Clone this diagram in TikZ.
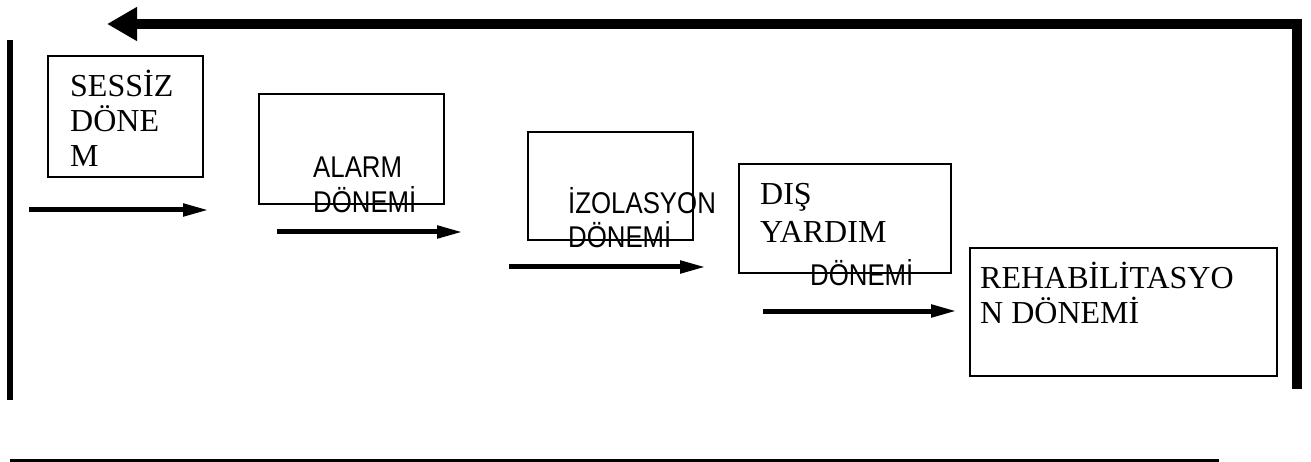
\documentclass[tikz,border=0pt]{standalone}
\usepackage{fontspec}
\setmainfont{Liberation Serif}
\newfontfamily\narrowsans[FakeStretch=0.86]{Liberation Sans}
\usetikzlibrary{arrows.meta}
\begin{document}
\begin{tikzpicture}[x=1pt,y=-1pt,
  phasebox/.style={draw,line width=2.2pt,inner sep=0pt},
  serifnote/.style={anchor=base west,inner sep=0pt,align=left,
    font=\fontsize{32}{35}\selectfont},
  sansnote/.style={anchor=base west,inner sep=0pt,align=left,
    font=\narrowsans\fontsize{30}{35}\selectfont},
  steparrow/.style={line width=5pt,-{Triangle[length=26pt,width=12pt]}},
  backarrow/.style={line width=10pt,-{Triangle[length=30pt,width=32pt]}}]
\useasboundingbox (0,0) rectangle (1311,462);

% phase boxes
\node[phasebox,minimum width=155pt,minimum height=121pt] (sessiz) at (125.5,116.5) {};
\node[phasebox,minimum width=185pt,minimum height=110pt] (alarm) at (351.5,149) {};
\node[phasebox,minimum width=165pt,minimum height=108pt] (izolasyon) at (610.5,186) {};
\node[phasebox,minimum width=212pt,minimum height=109pt] (dis) at (845,218.5) {};
\node[phasebox,minimum width=307pt,minimum height=128pt] (rehab) at (1123.5,312) {};

% labels (anchored on the baseline of their last line)
\node[serifnote] (sessizt) at (70,167) {SESSİZ\\DÖNE\\M};
\node[sansnote] (alarmt) at (313,213) {ALARM\\DÖNEMİ};
\node[sansnote] (izolasyont) at (568,248) {İZOLASYON\\DÖNEMİ};
\node[serifnote,font=\fontsize{32}{38}\selectfont] (dist) at (760,243) {DIŞ\\YARDIM};
\node[sansnote] (dist2) at (810,285) {DÖNEMİ};
\node[serifnote] (rehabt) at (980,323) {REHABİLİTASYO\\N DÖNEMİ};

% step arrows
\coordinate (a1s) at (29,210);  \coordinate (a1e) at (209,210);
\coordinate (a2s) at (277,232); \coordinate (a2e) at (463,232);
\coordinate (a3s) at (509,267); \coordinate (a3e) at (706,267);
\coordinate (a4s) at (763,311); \coordinate (a4e) at (957,311);
\draw[steparrow] (a1s) -- (a1e);
\draw[steparrow] (a2s) -- (a2e);
\draw[steparrow] (a3s) -- (a3e);
\draw[steparrow] (a4s) -- (a4e);

% return loop
\coordinate (rb) at (1297,389);
\coordinate (rt) at (1297,24);
\coordinate (tip) at (107,24);
\draw[backarrow] (rb) -- (rt) -- (tip);

% left rule and bottom rule
\coordinate (lt) at (10,40);
\coordinate (lb) at (10,400);
\draw[line width=6pt] (lt) -- (lb);
\coordinate (bl) at (10,460.5);
\coordinate (br) at (1219,460.5);
\draw[line width=3pt] (bl) -- (br);
\end{tikzpicture}
\end{document}
